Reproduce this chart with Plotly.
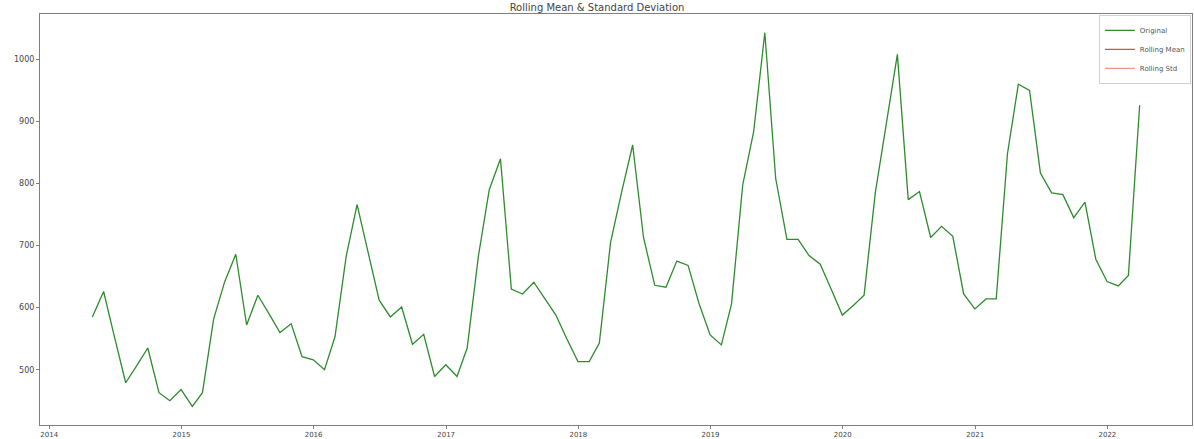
import pandas as pd
import plotly.graph_objects as go

# Monthly observations (month-end), April 2014 .. March 2022
start_month = "2014-04-01"
n_months = 96
values = [
    585, 626, 553, 479, 507, 535, 463, 450, 468, 441,
    463, 582, 641, 686, 572, 620, 590, 560, 574, 521,
    516, 500, 553, 683, 766, 689, 612, 585, 601, 541,
    557, 489, 508, 489, 535, 683, 790, 840, 630, 622,
    641, 615, 588, 550, 513, 513, 543, 705, 785, 862,
    713, 636, 633, 675, 668, 607, 556, 540, 606, 798,
    883, 1043, 808, 710, 710, 684, 670, 630, 588, 604,
    620, 785, 896, 1008, 774, 787, 713, 731, 715, 622,
    598, 614, 614, 848, 960, 950, 817, 785, 782, 745,
    770, 678, 642, 635, 652, 926,
]
rolling_mean = [None]   # not drawn in the reference (no valid values)
rolling_std = [None]
y_ticks = [500, 600, 700, 800, 900, 1000]

dates = pd.date_range(start_month, periods=n_months, freq="MS") + pd.offsets.MonthEnd(0)

span = dates[-1] - dates[0]
x_range = [dates[0] - span * 0.05, dates[-1] + span * 0.05]
ymin, ymax = min(values), max(values)
ypad = (ymax - ymin) * 0.05
y_range = [ymin - ypad, ymax + ypad]

fig = go.Figure()
fig.add_trace(go.Scatter(x=dates, y=values, mode="lines", name="Original",
                         line=dict(color="#2e8b2e", width=1.3)))
fig.add_trace(go.Scatter(x=dates[:len(rolling_mean)], y=rolling_mean, mode="lines",
                         name="Rolling Mean", line=dict(color="#d9582b", width=1.3)))
fig.add_trace(go.Scatter(x=dates[:len(rolling_std)], y=rolling_std, mode="lines",
                         name="Rolling Std", line=dict(color="#e8968a", width=1.3)))

axis_common = dict(showline=True, linecolor="#7f7f7f", linewidth=1, mirror=True,
                   ticks="outside", ticklen=3, tickcolor="#7f7f7f", tickwidth=1,
                   showgrid=False, zeroline=False, automargin=False,
                   tickfont=dict(family="DejaVu Sans", size=8, color="#444"))

fig.update_layout(
    width=1194, height=439,
    margin=dict(l=40, r=2, t=14, b=14),
    paper_bgcolor="white", plot_bgcolor="white",
    title=dict(text="Rolling Mean & Standard Deviation", x=0.5, xanchor="center",
               yref="container", y=1 - 7.5 / 439, yanchor="middle",
               font=dict(family="DejaVu Sans", size=10, color="#444")),
    xaxis=dict(range=x_range, dtick="M12", tick0="2014-01-01", tickformat="%Y",
               **{**axis_common, "tickfont": dict(family="DejaVu Sans", size=7, color="#444")}),
    yaxis=dict(range=y_range, tickvals=y_ticks, **axis_common),
    legend=dict(x=0.999, y=0.998, xanchor="right", yanchor="top",
                bgcolor="white", bordercolor="#d0d0d0", borderwidth=1,
                font=dict(family="DejaVu Sans", size=7, color="#555"),
                tracegroupgap=0),
    showlegend=True,
)

fig.write_html("out.html")
